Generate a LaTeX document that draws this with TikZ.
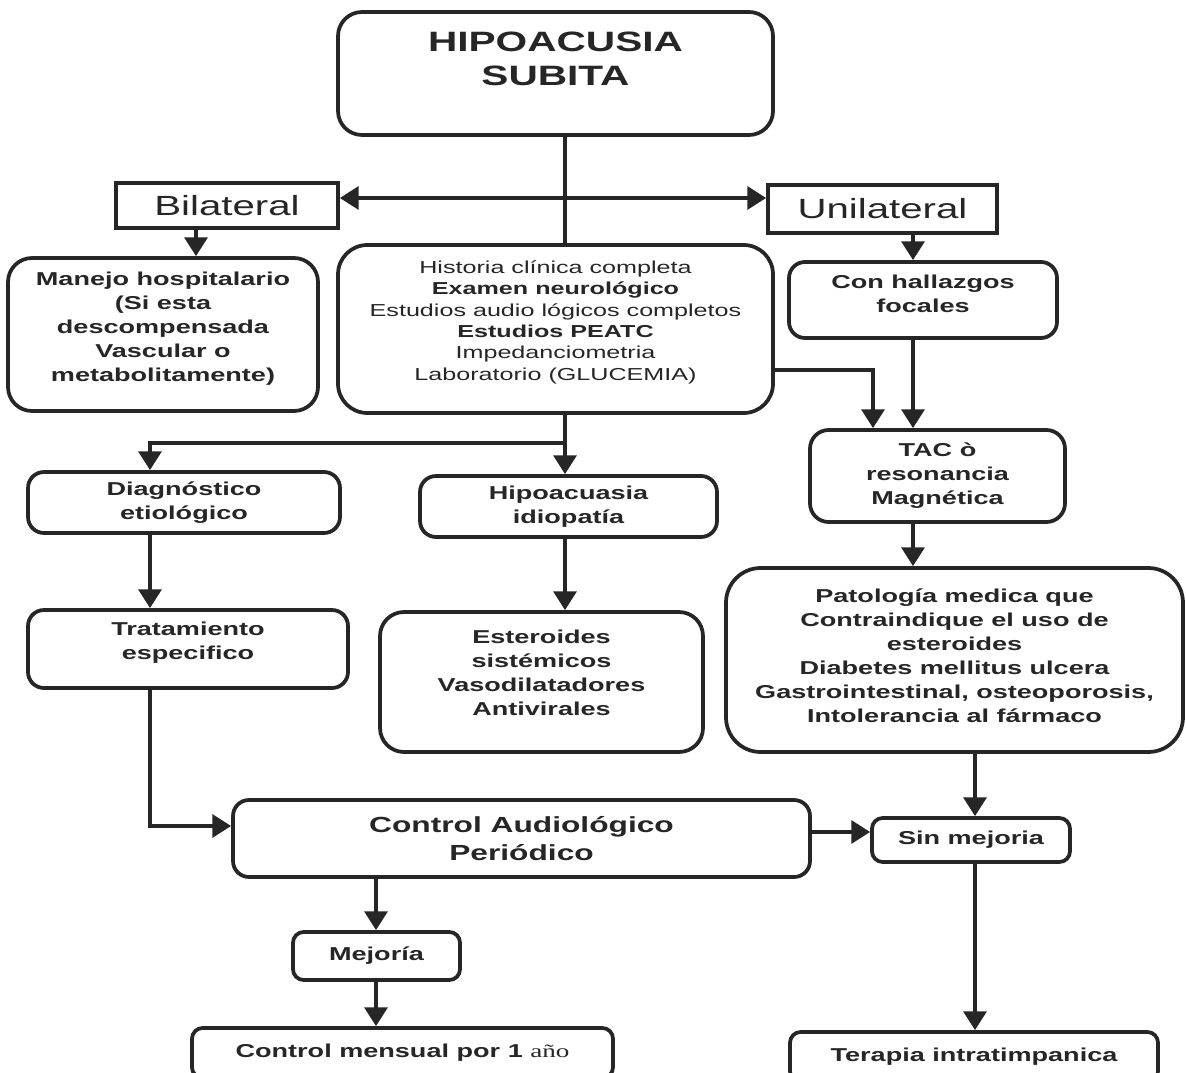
\documentclass[tikz,border=0pt]{standalone}
\usepackage{fontspec}
\setmainfont{Liberation Sans}[FakeStretch=1.45]
\newfontfamily\yearfont{Liberation Serif}[FakeStretch=1.45]
\usetikzlibrary{arrows.meta}
\definecolor{ink}{RGB}{38,38,38}
\begin{document}
\begin{tikzpicture}[x=0.75pt,y=-0.75pt,
  >={Triangle[width=17pt,length=14pt]},
  box/.style={draw=ink, line width=2.8pt, rounded corners=#1, align=center, inner sep=0pt,
    text=ink, font=\bfseries\fontsize{14}{18}\selectfont},
  box/.default=10pt,
  sq/.style={draw=ink, line width=2.8pt, inner sep=0pt, text=ink, font=\fontsize{20.8}{24}\selectfont},
  ln/.style={draw=ink, line width=2.8pt},
  arr/.style={ln, ->},
]
\useasboundingbox (0,0) rectangle (1186,1073);
\clip (0,0) rectangle (1186,1073);
\fill[white] (0,0) rectangle (1186,1073);

% boxes
\node[box=18pt, minimum width=326.25pt, minimum height=92.25pt,
  font=\bfseries\fontsize{21}{26}\selectfont, text depth=22pt] (top) at (555.5,73.5) {HIPOACUSIA\\SUBITA};
\node[sq, minimum width=166.5pt, minimum height=33.75pt] (bil) at (227,205.5) {Bilateral};
\node[sq, minimum width=171.75pt, minimum height=36pt] (uni) at (882.5,209) {Unilateral};
\node[box=18pt, minimum width=232.5pt, minimum height=114.75pt, text depth=12pt] (man) at (163,334.5)
  {Manejo hospitalario\\(Si esta\\descompensada\\Vascular o\\metabolitamente)};
\node[box=22pt, minimum width=326.25pt, minimum height=126pt, font=\fontsize{13}{16}\selectfont,
  text depth=13pt] (cen) at (555.5,329)
  {Historia clínica completa\\\textbf{Examen neurológico}\\Estudios audio lógicos completos\\\textbf{Estudios PEATC}\\Impedanciometria\\Laboratorio (GLUCEMIA)};
\node[box=12pt, minimum width=201pt, minimum height=57pt, text depth=10pt] (con) at (923,300) {Con hallazgos\\focales};
\node[box=14pt, minimum width=191.25pt, minimum height=69pt] (tac) at (937.5,476) {TAC ò\\resonancia\\Magnética};
\node[box=26pt, minimum width=342.75pt, minimum height=138pt, text depth=6pt] (pat) at (954.5,660)
  {Patología medica que\\Contraindique el uso de\\esteroides\\Diabetes mellitus ulcera\\Gastrointestinal, osteoporosis,\\Intolerancia al fármaco};
\node[box=12pt, minimum width=234pt, minimum height=45.75pt] (dia) at (184,502.5) {Diagnóstico\\etiológico};
\node[box=12pt, minimum width=222.75pt, minimum height=45.75pt] (hip) at (568.5,506.5) {Hipoacuasia\\idiopatía};
\node[box=12pt, minimum width=240pt, minimum height=58.5pt, text depth=12pt] (tra) at (188,649) {Tratamiento\\especifico};
\node[box=18pt, minimum width=242.25pt, minimum height=105pt, text depth=14pt] (est) at (541.5,682)
  {Esteroides\\sistémicos\\Vasodilatadores\\Antivirales};
\node[box=12pt, minimum width=432.75pt, minimum height=57.75pt, font=\bfseries\fontsize{16.4}{21}\selectfont] (ctl) at (521.5,838.5)
  {Control Audiológico\\Periódico};
\node[box=8pt, minimum width=148.5pt, minimum height=33pt] (sin) at (971,840) {Sin mejoria};
\node[box=8pt, minimum width=125.25pt, minimum height=36pt] (mej) at (376.5,956) {Mejoría};
\node[box=8pt, minimum width=315.75pt, minimum height=37.5pt] (cm) at (402.5,1053)
  {Control mensual por 1 {\yearfont\mdseries año}};
\node[box=8pt, minimum width=276pt, minimum height=37.5pt] (ter) at (974,1057) {Terapia intratimpanica};

% connectors
\coordinate (sp) at (565,198);
\draw[ln] (sp |- top.south) -- (sp |- cen.north);
\draw[ln, <->] (bil.east |- sp) -- (uni.west |- sp);
\coordinate (xb) at (196,0);
\draw[arr] (xb |- bil.south) -- (xb |- man.north);
\coordinate (xu) at (913,0);
\draw[arr] (xu |- uni.south) -- (xu |- con.north);
\draw[arr] (xu |- con.south) -- (xu |- tac.north);
\coordinate (c1) at (873,370);
\draw[arr] (c1 -| cen.east) -- (c1) -- (c1 |- tac.north);
\draw[arr] (xu |- tac.south) -- (xu |- pat.north);
\coordinate (xs) at (975,0);
\draw[arr] (xs |- pat.south) -- (xs |- sin.north);
\draw[arr] (xs |- sin.south) -- (xs |- ter.north);
\coordinate (br) at (565,443);
\draw[arr] (br |- cen.south) -- (br |- hip.north);
\coordinate (xd) at (150,0);
\draw[arr] (br) -- (xd |- br) -- (xd |- dia.north);
\draw[arr] (xd |- dia.south) -- (xd |- tra.north);
\draw[arr] (br |- hip.south) -- (br |- est.north);
\coordinate (yc) at (0,826);
\draw[arr] (xd |- tra.south) -- (xd |- yc) -- (ctl.west |- yc);
\coordinate (ys) at (0,832);
\draw[arr] (ctl.east |- ys) -- (sin.west |- ys);
\coordinate (xm) at (376,0);
\draw[arr] (xm |- ctl.south) -- (xm |- mej.north);
\draw[arr] (xm |- mej.south) -- (xm |- cm.north);
\end{tikzpicture}
\end{document}
